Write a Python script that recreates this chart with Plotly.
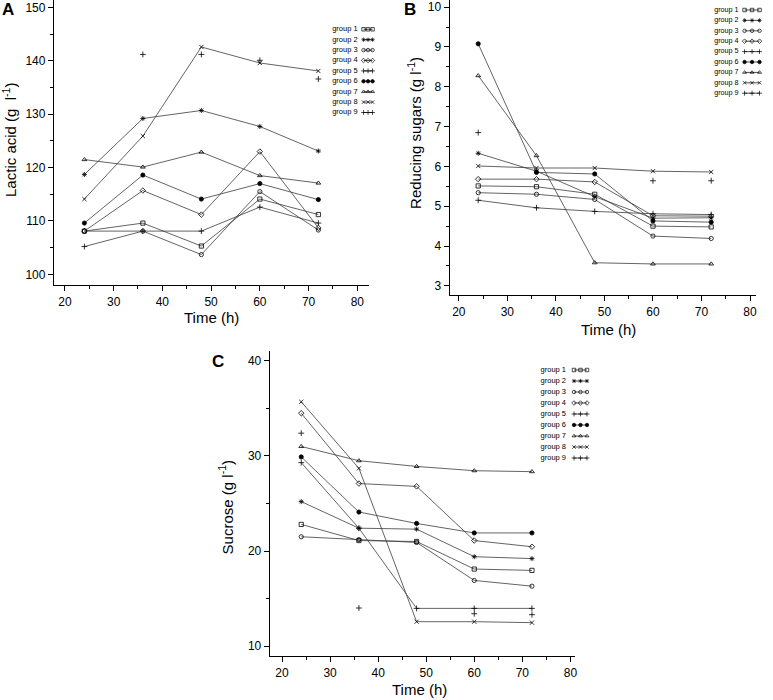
import plotly.graph_objects as go

W, H = 773, 700

times = [24, 36, 48, 60, 72]
group_names = [f"group {i}" for i in range(1, 10)]
symbols = ["square-open", "asterisk-open", "circle-open", "diamond-open",
           "cross-thin-open", "circle", "triangle-up-open", "x-thin-open",
           "cross-thin-open"]
draw_line = [True, True, True, True, True, True, True, True, False]

# Panel A: lactic acid (g/l)
lactic_acid = [
    [108.1, 109.6, 105.3, 114.1, 111.2],
    [118.7, 129.2, 130.7, 127.7, 123.1],
    [108.1, 108.1, 103.7, 115.5, 108.3],
    [108.1, 115.7, 111.2, 123.0, 108.7],
    [105.2, 108.1, 108.1, 112.6, 109.6],
    [109.6, 118.6, 114.1, 117.0, 114.0],
    [121.5, 120.1, 122.9, 118.5, 117.1],
    [114.1, 125.9, 142.6, 139.6, 138.1],
    [None, 141.2, 141.2, 140.1, 136.6],
]
# Panel B: reducing sugars (g/l)
reducing_sugars = [
    [5.51, 5.49, 5.30, 4.50, 4.48],
    [6.33, 5.88, 5.24, 4.70, 4.71],
    [5.34, 5.30, 5.17, 4.25, 4.19],
    [5.68, 5.68, 5.61, 4.76, 4.75],
    [5.15, 4.96, 4.87, 4.81, 4.79],
    [9.08, 5.85, 5.81, 4.63, 4.60],
    [8.28, 6.27, 3.58, 3.55, 3.55],
    [6.01, 5.96, 5.96, 5.88, 5.86],
    [6.85, None, None, 5.64, 5.64],
]
# Panel C: sucrose (g/l)
sucrose = [
    [22.8, 21.1, 21.0, 18.1, 17.96],
    [25.2, 22.4, 22.3, 19.4, 19.2],
    [21.5, 21.2, 20.9, 16.9, 16.3],
    [34.5, 27.1, 26.8, 21.1, 20.45],
    [29.3, 22.4, 13.96, 13.96, 13.96],
    [29.9, 24.1, 22.9, 21.9, 21.9],
    [31.0, 29.5, 28.9, 28.45, 28.35],
    [35.7, 28.7, 12.56, 12.56, 12.46],
    [32.4, 14.0, None, 13.4, 13.3],
]

FONT = "Liberation Sans, Arial, Helvetica, sans-serif"

fig = go.Figure()


def add_panel(data, xa, ya):
    for i, vals in enumerate(data):
        sym = symbols[i]
        fig.add_trace(go.Scatter(
            x=times, y=vals, xaxis=xa, yaxis=ya,
            mode="lines+markers" if draw_line[i] else "markers",
            connectgaps=False,
            line=dict(color="#3c3c3c", width=0.8),
            marker=dict(symbol=sym, size=4.2, color="black",
                        line=dict(color="black", width=0.8)),
            name=group_names[i], showlegend=False, cliponaxis=False,
        ))


add_panel(lactic_acid, "x", "y")
add_panel(reducing_sugars, "x2", "y2")
add_panel(sucrose, "x3", "y3")


def px_x(a, b):
    return [a / W, b / W]


def px_y(top, bottom):
    return [1 - bottom / H, 1 - top / H]


def xaxis_cfg(dom, rng):
    return dict(domain=dom, range=rng, showline=True, linecolor="black",
                linewidth=1.3, ticks="outside", ticklen=5, tickwidth=1,
                tickcolor="black", showgrid=False, zeroline=False,
                tick0=0, dtick=10,
                tickfont=dict(family=FONT, size=12, color="black"),
                minor=dict(ticks="outside", ticklen=3, tickwidth=1,
                           tickcolor="black", dtick=5, tick0=0, showgrid=False),
                fixedrange=True)


def yaxis_cfg(dom, rng, dtick, mdtick, anchor):
    return dict(domain=dom, range=rng, showline=True, linecolor="black",
                linewidth=1.3, ticks="outside", ticklen=5, tickwidth=1,
                tickcolor="black", showgrid=False, zeroline=False,
                tick0=0, dtick=dtick, anchor=anchor,
                tickfont=dict(family=FONT, size=12, color="black"),
                minor=dict(ticks="outside", ticklen=3, tickwidth=1,
                           tickcolor="black", dtick=mdtick, tick0=0, showgrid=False),
                fixedrange=True)


layout = dict(
    width=W, height=H, margin=dict(l=0, r=0, t=0, b=0),
    paper_bgcolor="white", plot_bgcolor="white", showlegend=False,
    font=dict(family=FONT, color="black"),
    xaxis=dict(xaxis_cfg(px_x(54.3, 370), [17.8, 82.4]), anchor="y"),
    yaxis=yaxis_cfg(px_y(0, 285), [98.0, 151.4], 10, 5, "x"),
    xaxis2=dict(xaxis_cfg(px_x(451, 758.3), [18.15, 81.3]), anchor="y2"),
    yaxis2=yaxis_cfg(px_y(0, 295), [2.77, 10.18], 1, 0.5, "x2"),
    xaxis3=dict(xaxis_cfg(px_x(270.7, 576.7), [17.5, 81.0]), anchor="y3"),
    yaxis3=yaxis_cfg(px_y(350.7, 656), [8.95, 41.08], 10, 5, "x3"),
)

# Legend blocks (drawn on small hidden axes)
legend_specs = [
    # text left, first row y, row height, text width, sample width, font size
    (333, 29.3, 10.4, 30, 12, 7.5),
    (716, 10.0, 10.4, 29, 18, 7.2),
    (542, 370.0, 11.0, 32, 16, 7.5),
]
n = len(group_names)
for k, (x0, y0, rh, tw, sw, fs) in enumerate(legend_specs):
    ax = 4 + k
    layout[f"xaxis{ax}"] = dict(domain=px_x(x0, x0 + tw + sw), range=[0, tw + sw],
                                visible=False, fixedrange=True, anchor=f"y{ax}")
    layout[f"yaxis{ax}"] = dict(domain=px_y(y0 - rh / 2, y0 + rh * (n - 0.5)),
                                range=[n - 0.5, -0.5], visible=False,
                                fixedrange=True, anchor=f"x{ax}")
    fig.add_trace(go.Scatter(
        x=[0] * n, y=list(range(n)), xaxis=f"x{ax}", yaxis=f"y{ax}",
        mode="text", text=group_names, textposition="middle right",
        textfont=dict(family=FONT, size=fs, color="black"),
        showlegend=False, hoverinfo="skip", cliponaxis=False))
    for i in range(n):
        xs = [tw + 1.5, tw + sw / 2, tw + sw - 1.5]
        fig.add_trace(go.Scatter(
            x=xs, y=[i] * 3, xaxis=f"x{ax}", yaxis=f"y{ax}",
            mode="lines+markers",
            line=dict(color="black", width=0.7),
            marker=dict(symbol=symbols[i], size=3.5, color="black",
                        line=dict(color="black", width=0.7)),
            showlegend=False, hoverinfo="skip", cliponaxis=False))

fig.update_layout(**layout)

ann = []
# panel letters
for txt, x, y in [("A", 8, 10), ("B", 411, 9), ("C", 219, 361)]:
    ann.append(dict(text=f"<b>{txt}</b>", x=x / W, y=1 - y / H, xref="paper",
                    yref="paper", showarrow=False, xanchor="center",
                    yanchor="middle", font=dict(family=FONT, size=17, color="black")))
# y titles
for txt, x, y in [("Lactic acid (g  l<sup>-1</sup>)", 10, 140),
                  ("Reducing sugars (g l<sup>-1</sup>)", 416, 133),
                  ("Sucrose (g l<sup>-1</sup>)", 226, 507)]:
    ann.append(dict(text=txt, x=x / W, y=1 - y / H, xref="paper", yref="paper",
                    showarrow=False, textangle=-90, xanchor="center",
                    yanchor="middle", font=dict(family=FONT, size=15, color="black")))
# x titles
for x, y in [(212, 317), (610, 329), (421, 689)]:
    ann.append(dict(text="Time (h)", x=x / W, y=1 - y / H, xref="paper",
                    yref="paper", showarrow=False, xanchor="center",
                    yanchor="middle", font=dict(family=FONT, size=15, color="black")))
fig.update_layout(annotations=ann)

fig.write_html("out.html", config={"displayModeBar": False, "staticPlot": True},
               post_script="document.body.style.margin='0';document.body.style.padding='0';")
